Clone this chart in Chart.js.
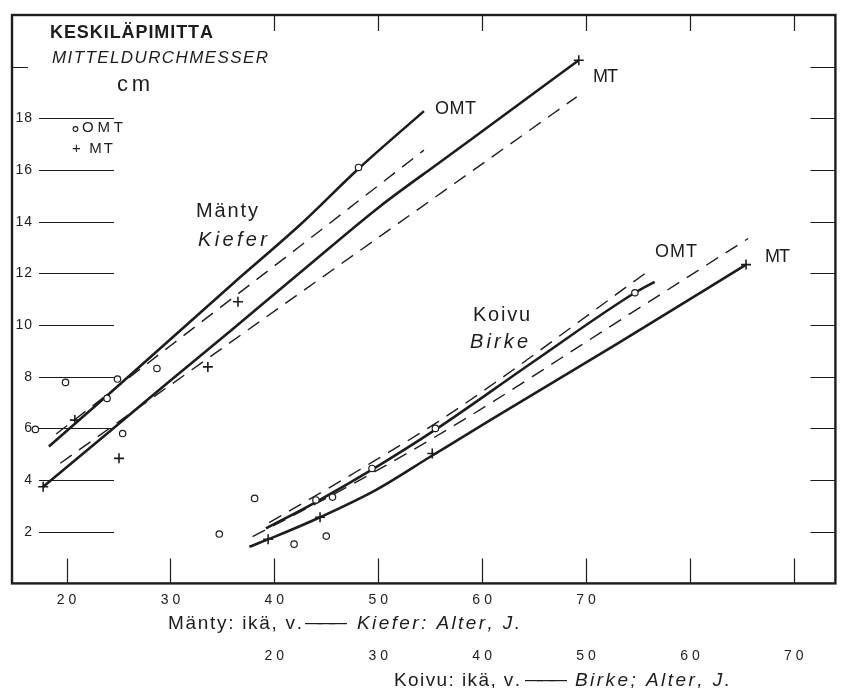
<!DOCTYPE html>
<html>
<head>
<meta charset="utf-8">
<title>Keskiläpimitta – Mitteldurchmesser</title>
<script src="https://cdn.jsdelivr.net/npm/chart.js@4.4.1/dist/chart.umd.min.js"></script>
<style>
  html, body { margin: 0; padding: 0; background: #ffffff; }
  canvas { display: block; }
</style>
</head>
<body>
<canvas id="chart" width="842" height="688"></canvas>
<script>
// Tick values
const diameterTicks = [2, 4, 6, 8, 10, 12, 14, 16, 18];
const frameTicksY = [2, 4, 6, 8, 10, 12, 14, 16, 18, 20];
const mantyAgeLabels = [20, 30, 40, 50, 60, 70];
const koivuAgeLabels = [20, 30, 40, 50, 60, 70];
const bottomTickAges = [20, 30, 40, 50, 60, 70, 80, 90];
const topTickAges = [40, 50, 60, 70, 80, 90];

// Mänty (pine): smoothed curves, age in years / mean diameter in cm
const mantyOmtCurveAge  = [18.3, 24, 30, 36, 42.4, 48.1, 54.4];
const mantyOmtCurveDiam = [5.3, 7.3, 9.45, 11.6, 13.85, 16.05, 18.28];
const mantyMtCurveAge   = [17.75, 24, 30, 36, 42.4, 50.1, 56, 62, 69.3];
const mantyMtCurveDiam  = [3.74, 5.83, 7.85, 9.85, 12.0, 14.57, 16.32, 18.09, 20.25];
const mantyOmtDashAge   = [19.0, 30, 42.4, 54.4];
const mantyOmtDashDiam  = [5.78, 9.2, 13.03, 16.77];
const mantyMtDashAge    = [19.4, 30, 42.4, 55, 69.1];
const mantyMtDashDiam   = [4.65, 7.68, 11.22, 14.81, 18.83];

// Mänty: observed stands
const mantyOmtObsAge  = [17.0, 19.9, 23.9, 24.9, 25.4, 28.7, 48.1];
const mantyOmtObsDiam = [5.96, 7.78, 7.16, 7.91, 5.8, 8.32, 16.1];
const mantyMtObsAge   = [17.75, 20.8, 25.05, 33.6, 36.5, 69.3];
const mantyMtObsDiam  = [3.74, 6.32, 4.84, 8.38, 10.9, 20.25];

// Koivu (birch): smoothed curves
const koivuOmtCurveAge  = [19.2, 24, 30, 35.5, 45, 54.7, 56.6];
const koivuOmtCurveDiam = [2.13, 3.15, 4.55, 5.95, 8.6, 11.25, 11.67];
const koivuMtCurveAge   = [17.6, 20, 24.4, 29.8, 35.2, 40.7, 53.1, 65.4];
const koivuMtCurveDiam  = [1.42, 1.8, 2.56, 3.62, 4.95, 6.3, 9.3, 12.34];
const koivuOmtDashAge   = [19.5, 28, 36.7, 55.7];
const koivuOmtDashDiam  = [2.35, 4.35, 6.51, 12.0];
const koivuMtDashAge    = [17.9, 28, 38.7, 52, 65.6];
const koivuMtDashDiam   = [1.81, 3.95, 6.45, 9.86, 13.35];

// Koivu: observed stands
const koivuOmtObsAge  = [14.7, 18.1, 21.9, 24.0, 25.0, 25.6, 29.4, 35.5, 54.7];
const koivuOmtObsDiam = [1.91, 3.29, 1.52, 3.23, 1.83, 3.34, 4.45, 6.0, 11.25];
const koivuMtObsAge   = [19.4, 24.4, 35.2, 65.4];
const koivuMtObsDiam  = [1.71, 2.56, 5.03, 12.34];

const INK = '#1d1d1d';
const SANS = '"Liberation Sans", Arial, sans-serif';

function pts(xs, ys) { return xs.map((x, i) => ({ x: x, y: ys[i] })); }

function curve(xs, ys, axis, dashed) {
  return {
    data: pts(xs, ys),
    xAxisID: axis,
    showLine: true,
    borderColor: INK,
    borderWidth: dashed ? 1.4 : 2.6,
    borderDash: dashed ? [14, 9] : [],
    pointRadius: 0,
    cubicInterpolationMode: 'monotone',
    fill: false,
    order: 2
  };
}

function marks(xs, ys, axis, style) {
  const circle = style === 'circle';
  return {
    data: pts(xs, ys),
    xAxisID: axis,
    showLine: false,
    pointStyle: style,
    pointRadius: circle ? 3.2 : 5,
    pointBorderWidth: circle ? 1.2 : 1.6,
    pointBorderColor: INK,
    pointBackgroundColor: '#ffffff',
    order: 1
  };
}

// Draw text char by char so that it spans the given width
function fitText(ctx, text, x, y, width, font) {
  ctx.font = font;
  const chars = Array.from(text);
  const ws = chars.map(c => ctx.measureText(c).width);
  const total = ws.reduce((a, b) => a + b, 0);
  const gap = chars.length > 1 ? (width - total) / (chars.length - 1) : 0;
  let cx = x;
  chars.forEach((c, i) => { ctx.fillText(c, cx, y); cx += ws[i] + gap; });
}

// Draw spaced text centred (or right-aligned) on x
function spacedText(ctx, text, x, y, gap, font, align) {
  ctx.font = font;
  const chars = Array.from(text);
  const ws = chars.map(c => ctx.measureText(c).width);
  const total = ws.reduce((a, b) => a + b, 0) + gap * (chars.length - 1);
  let cx = align === 'right' ? x - total : x - total / 2;
  chars.forEach((c, i) => { ctx.fillText(c, cx, y); cx += ws[i] + gap; });
}

const framePlugin = {
  id: 'frameAndLettering',
  beforeDatasetsDraw(chart) {
    const ctx = chart.ctx;
    const area = chart.chartArea;
    const xM = chart.scales.x;
    const xK = chart.scales.xK;
    const y = chart.scales.y;
    ctx.save();
    ctx.strokeStyle = INK;
    ctx.fillStyle = INK;
    ctx.lineCap = 'butt';

    // inner tick marks along the frame
    ctx.lineWidth = 1.2;
    ctx.beginPath();
    bottomTickAges.forEach(a => {
      const px = Math.round(xM.getPixelForValue(a)) + 0.5;
      ctx.moveTo(px, area.bottom);
      ctx.lineTo(px, area.bottom - 25);
    });
    topTickAges.forEach(a => {
      const px = Math.round(xM.getPixelForValue(a)) + 0.5;
      ctx.moveTo(px, area.top);
      ctx.lineTo(px, area.top + 16);
    });
    frameTicksY.forEach(v => {
      const py = Math.round(y.getPixelForValue(v)) + 0.5;
      ctx.moveTo(area.right, py);
      ctx.lineTo(area.right - 25, py);
    });
    const py20 = Math.round(y.getPixelForValue(20)) + 0.5;
    ctx.moveTo(area.left, py20);
    ctx.lineTo(area.left + 16, py20);
    diameterTicks.forEach(v => {
      const py = Math.round(y.getPixelForValue(v)) + 0.5;
      ctx.moveTo(area.left + 27, py);
      ctx.lineTo(area.left + 102, py);
    });
    ctx.stroke();

    // frame
    ctx.lineWidth = 2.4;
    ctx.strokeRect(area.left, area.top, area.right - area.left, area.bottom - area.top);

    ctx.textBaseline = 'middle';
    // diameter labels inside the frame
    diameterTicks.forEach(v => {
      spacedText(ctx, String(v), area.left + 20, y.getPixelForValue(v), 1, '14px ' + SANS, 'right');
    });

    // age labels below the frame
    mantyAgeLabels.forEach(a => {
      spacedText(ctx, String(a), xM.getPixelForValue(a), area.bottom + 17, 4, '14px ' + SANS, 'center');
    });
    koivuAgeLabels.forEach(a => {
      spacedText(ctx, String(a), xK.getPixelForValue(a), area.bottom + 73, 4, '14px ' + SANS, 'center');
    });

    // axis titles
    const t1 = area.bottom + 40;
    fitText(ctx, 'Mänty: ikä, v.', 168, t1, 134, '19px ' + SANS);
    fitText(ctx, '———', 305, t1, 42, '18px ' + SANS);
    fitText(ctx, 'Kiefer: Alter, J.', 357, t1, 163, 'italic 19px ' + SANS);
    const t2 = area.bottom + 97;
    fitText(ctx, 'Koivu: ikä, v.', 394, t2, 126, '19px ' + SANS);
    fitText(ctx, '———', 525, t2, 42, '18px ' + SANS);
    fitText(ctx, 'Birke; Alter, J.', 575, t2, 155, 'italic 19px ' + SANS);

    // heading of the diameter axis
    fitText(ctx, 'KESKILÄPIMITTA', 50, 33, 163, 'bold 18px ' + SANS);
    fitText(ctx, 'MITTELDURCHMESSER', 52, 58, 216, 'italic 17px ' + SANS);
    fitText(ctx, 'cm', 117, 85, 33, '22px ' + SANS);

    // key
    ctx.lineWidth = 1.1;
    ctx.beginPath();
    ctx.arc(75.5, 129, 2.4, 0, Math.PI * 2);
    ctx.stroke();
    fitText(ctx, 'OMT', 82, 128, 41, '15px ' + SANS);
    fitText(ctx, '+ MT', 72, 149, 41, '15px ' + SANS);

    // species and site labels
    fitText(ctx, 'Mänty', 196, 211, 62, '20px ' + SANS);
    fitText(ctx, 'Kiefer', 198, 240, 69, 'italic 20px ' + SANS);
    fitText(ctx, 'OMT', 435, 109, 41, '18px ' + SANS);
    fitText(ctx, 'MT', 593, 77, 25, '18px ' + SANS);
    fitText(ctx, 'Koivu', 473, 315, 57, '20px ' + SANS);
    fitText(ctx, 'Birke', 470, 342, 58, 'italic 20px ' + SANS);
    fitText(ctx, 'OMT', 655, 252, 42, '18px ' + SANS);
    fitText(ctx, 'MT', 765, 257, 25, '18px ' + SANS);
    ctx.restore();
  }
};

const MANTY_MIN = 14.75, MANTY_MAX = 94.0, KOIVU_SHIFT = 20;

new Chart(document.getElementById('chart').getContext('2d'), {
  type: 'scatter',
  data: {
    datasets: [
      curve(mantyOmtCurveAge, mantyOmtCurveDiam, 'x', false),
      curve(mantyMtCurveAge, mantyMtCurveDiam, 'x', false),
      curve(mantyOmtDashAge, mantyOmtDashDiam, 'x', true),
      curve(mantyMtDashAge, mantyMtDashDiam, 'x', true),
      curve(koivuOmtCurveAge, koivuOmtCurveDiam, 'xK', false),
      curve(koivuMtCurveAge, koivuMtCurveDiam, 'xK', false),
      curve(koivuOmtDashAge, koivuOmtDashDiam, 'xK', true),
      curve(koivuMtDashAge, koivuMtDashDiam, 'xK', true),
      marks(mantyOmtObsAge, mantyOmtObsDiam, 'x', 'circle'),
      marks(mantyMtObsAge, mantyMtObsDiam, 'x', 'cross'),
      marks(koivuOmtObsAge, koivuOmtObsDiam, 'xK', 'circle'),
      marks(koivuMtObsAge, koivuMtObsDiam, 'xK', 'cross')
    ]
  },
  options: {
    responsive: false,
    animation: false,
    layout: { padding: { left: 12, right: 4, top: 15, bottom: 104.6 } },
    scales: {
      x:  { type: 'linear', min: MANTY_MIN, max: MANTY_MAX, display: false },
      xK: { type: 'linear', axis: 'x', min: MANTY_MIN - KOIVU_SHIFT, max: MANTY_MAX - KOIVU_SHIFT, display: false },
      y:  { type: 'linear', min: 0, max: 22, display: false }
    },
    plugins: {
      legend: { display: false },
      tooltip: { enabled: false }
    }
  },
  plugins: [framePlugin]
});
</script>
</body>
</html>
